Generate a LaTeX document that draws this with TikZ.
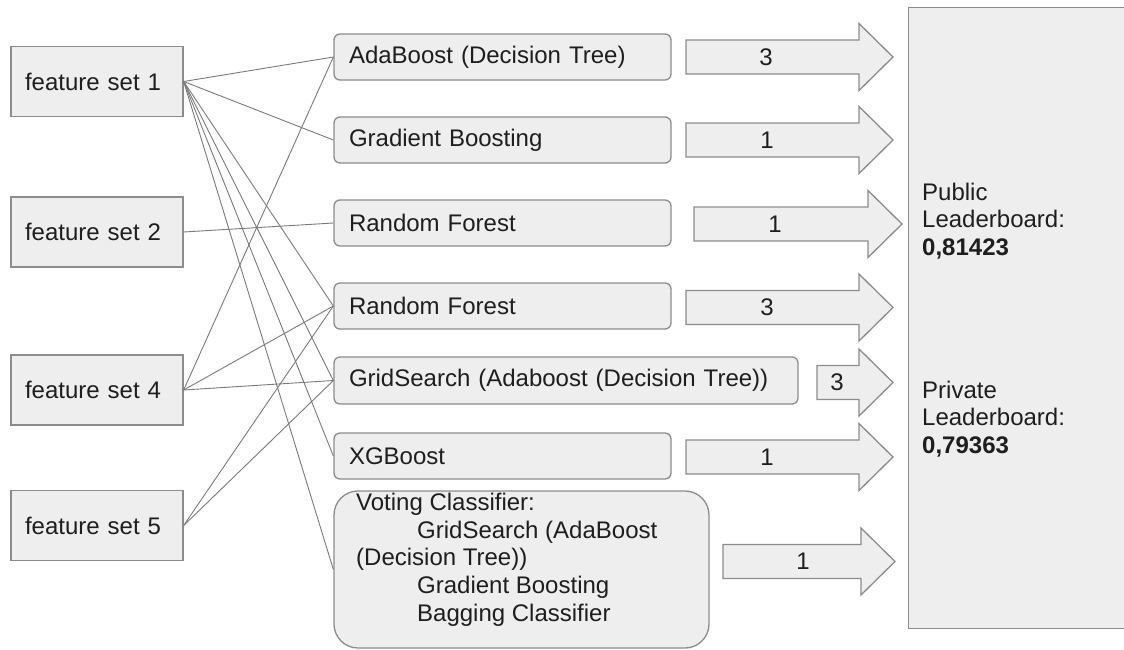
\documentclass[tikz,border=0pt]{standalone}
\usepackage{fontspec}
\setmainfont{Liberation Sans}
\definecolor{boxfill}{HTML}{EEEEEE}
\definecolor{boxline}{HTML}{8C8C8C}
\definecolor{conncol}{HTML}{7A7A7A}
\definecolor{txt}{HTML}{1E1E1E}
% #1 shaft start x, #2 head start x, #3 tip x, #4 centre y, #5 label name, #6 label x, #7 label
\newcommand{\fatarrow}[7]{%
  \draw[fat] (#1,#4-17) -- (#2,#4-17) -- (#2,#4-33.5) -- (#3,#4) -- (#2,#4+33.5) -- (#2,#4+17) -- (#1,#4+17) -- cycle;
  \node[num] (#5) at (#6,#4) {#7};}
\begin{document}
\begin{tikzpicture}[x=1pt,y=-1pt,
  every node/.style={font=\fontsize{24pt}{27.6pt}\selectfont, text=txt},
  fsbox/.style={draw=boxline, fill=boxfill, line width=1.3pt, minimum height=70pt,
    text width=144pt, align=left, inner xsep=14pt, inner ysep=0pt},
  clfbox/.style={draw=boxline, fill=boxfill, line width=1.3pt, rounded corners=6pt,
    minimum height=46pt, inner xsep=15pt, inner ysep=0pt, align=left},
  conn/.style={draw=conncol, line width=0.9pt},
  fat/.style={draw=boxline, fill=boxfill, line width=1.3pt, line join=miter},
  num/.style={inner sep=0pt},
  lbtext/.style={inner sep=0pt, anchor=north west, align=left}]
\useasboundingbox (0,0) rectangle (1124,649);

% feature sets
\node[fsbox] (fs1) at (97,81.5) {feature set 1};
\node[fsbox] (fs2) at (97,232) {feature set 2};
\node[fsbox] (fs4) at (97,390) {feature set 4};
\node[fsbox] (fs5) at (97,525.5) {feature set 5};

% classifiers
\node[clfbox, text width=307pt] (ada) at (502.5,57) {AdaBoost (Decision Tree)};
\node[clfbox, text width=307pt] (gb) at (502.5,140) {Gradient Boosting};
\node[clfbox, text width=307pt] (rf1) at (502.5,223) {Random Forest};
\node[clfbox, text width=307pt] (rf2) at (502.5,306) {Random Forest};
\node[clfbox, text width=434pt, minimum height=47pt] (grid) at (566,380.5) {GridSearch (Adaboost (Decision Tree))};
\node[clfbox, text width=307pt] (xgb) at (502.5,456) {XGBoost};
\node[draw=boxline, fill=boxfill, line width=1.3pt, rounded corners=24pt,
  minimum width=375pt, minimum height=157pt, inner sep=0pt] (vote) at (521.5,569.5) {};
\node[lbtext] (votetext) at (356,493) {Voting Classifier:\\
\hspace*{61pt}GridSearch (AdaBoost\\
(Decision Tree))\\
\hspace*{61pt}Gradient Boosting\\
\hspace*{61pt}Bagging Classifier};

% leaderboard box (runs past the right edge of the picture)
\node[fill=boxfill, minimum width=320pt, minimum height=620pt, inner sep=0pt] (lb) at (1069,318) {};
\draw[draw=boxline, line width=1.3pt] (lb.north east) -- (lb.north west) -- (lb.south west) -- (lb.south east);
\node[lbtext] (pub) at (922,182.5) {Public\\Leaderboard:\\\textbf{0,81423}};
\node[lbtext] (priv) at (922,380.5) {Private\\Leaderboard:\\\textbf{0,79363}};

% connectors
\draw[conn] (fs1.east) -- (ada.west);
\draw[conn] (fs1.east) -- (gb.west);
\draw[conn] (fs1.east) -- (rf2.west);
\draw[conn] (fs1.east) -- (grid.west);
\draw[conn] (fs1.east) -- (xgb.west);
\draw[conn] (fs1.east) -- (vote.west);
\draw[conn] (fs2.east) -- (rf1.west);
\draw[conn] (fs4.east) -- (ada.west);
\draw[conn] (fs4.east) -- (rf2.west);
\draw[conn] (fs4.east) -- (grid.west);
\draw[conn] (fs5.east) -- (rf2.west);
\draw[conn] (fs5.east) -- (grid.west);

% block arrows
\fatarrow{686}{859}{893}{57}{n1}{766}{3}
\fatarrow{686}{859}{893}{140}{n2}{767}{1}
\fatarrow{694}{868}{902}{224}{n3}{775}{1}
\fatarrow{686}{859}{893}{307.5}{n4}{767}{3}
\fatarrow{817}{859}{893}{382.5}{n5}{837}{3}
\fatarrow{686}{859}{893}{457}{n6}{767}{1}
\fatarrow{723}{861}{895}{561.5}{n7}{803}{1}
\end{tikzpicture}
\end{document}
